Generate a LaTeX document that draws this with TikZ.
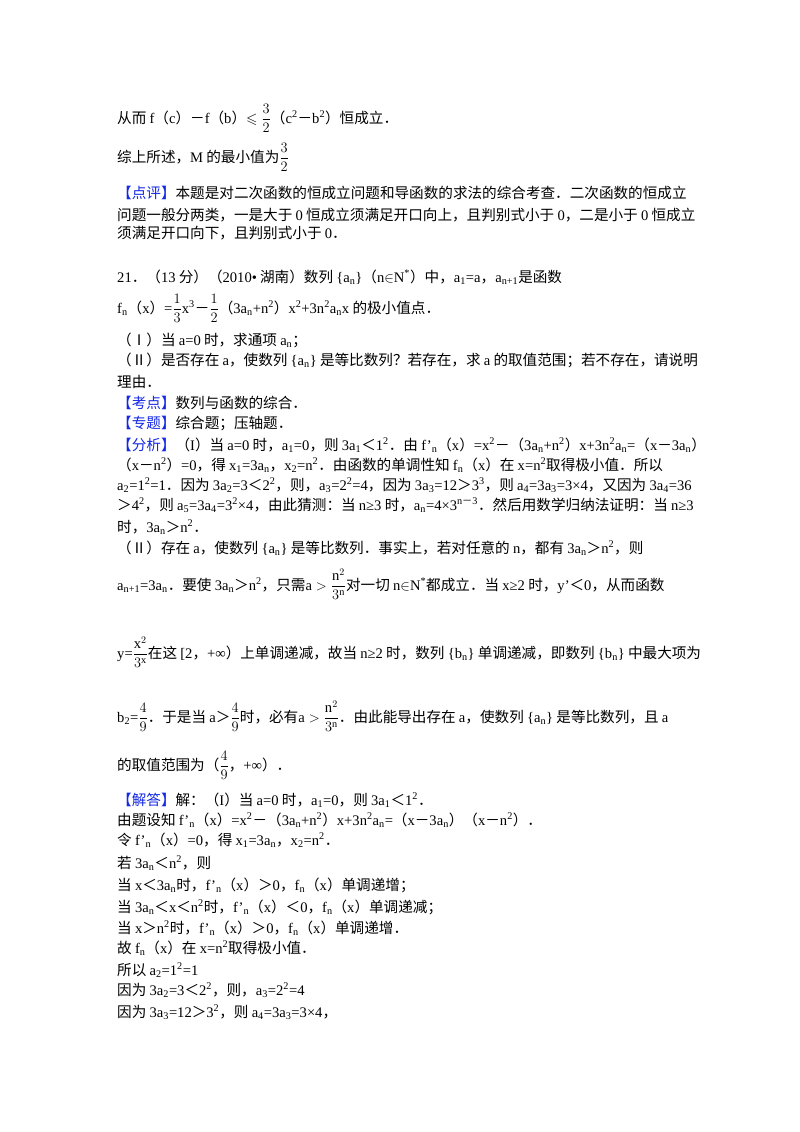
\documentclass[tikz,border=0pt]{standalone}
\usepackage{amsmath,amssymb}
\usepackage{fontspec}
\setmainfont{Liberation Serif}
\newfontfamily\cjkf{Noto Sans CJK SC}
\newcount\cc
\newXeTeXintercharclass\CJKcls
\newXeTeXintercharclass\PUNcls
\def\setcls#1#2#3{\cc=#1\relax\loop\ifnum\cc<#2\relax\XeTeXcharclass\cc=#3\advance\cc by 1\repeat}
\setcls{"4E00}{"A000}\CJKcls
\setcls{"3000}{"3040}\PUNcls
\setcls{"FF00}{"FFF0}\PUNcls
\setcls{"2160}{"2170}\PUNcls
\XeTeXinterchartokenstate=1
\XeTeXinterchartoks 0 \CJKcls={\hskip0.22em\cjkf}
\XeTeXinterchartoks \CJKcls 0={\rmfamily\hskip0.22em}
\XeTeXinterchartoks 4095 \CJKcls={\cjkf}
\XeTeXinterchartoks \CJKcls 4095={\rmfamily}
\XeTeXinterchartoks 0 \PUNcls={\cjkf}
\XeTeXinterchartoks \PUNcls 0={\rmfamily}
\XeTeXinterchartoks 4095 \PUNcls={\cjkf}
\XeTeXinterchartoks \PUNcls 4095={\rmfamily}
\definecolor{blu}{RGB}{20,40,230}
\newcommand\Ss[1]{\textsubscript{#1}}
\newcommand\Sp[1]{\textsuperscript{#1}}
\newcommand\B[1]{\textcolor{blu}{#1}}
\tikzset{txt/.style={anchor=base west,inner sep=0pt,font=\fontsize{14.6}{18}\selectfont}}
\begin{document}
\begin{tikzpicture}[x=1pt,y=-1pt]
\useasboundingbox (0,0) rectangle (800,1132);
\fill[white] (0,0) rectangle (800,1132);
\node[txt] (l1) at (117,123) {从而f（c）－f（b）$\leqslant\dfrac{3}{2}$（c\Sp{2}－b\Sp{2}）恒成立．};
\node[txt] (l2) at (117,162) {综上所述，M的最小值为$\dfrac{3}{2}$};
\node[txt] (l3) at (117,198) {\B{【点评】}本题是对二次函数的恒成立问题和导函数的求法的综合考查．二次函数的恒成立};
\node[txt] (l4) at (117,220) {问题一般分两类，一是大于0恒成立须满足开口向上，且判别式小于0，二是小于0恒成立};
\node[txt] (l5) at (117,238) {须满足开口向下，且判别式小于0．};
\node[txt] (l6) at (117,282) {21．（13分）（2010•湖南）数列\{a\Ss{n}\}（n$\in$N\Sp{*}）中，a\Ss{1}=a，a\Ss{n+1}是函数};
\node[txt] (l7) at (117,313) {f\Ss{n}（x）=$\dfrac{1}{3}$x\Sp{3}－$\dfrac{1}{2}$（3a\Ss{n}+n\Sp{2}）x\Sp{2}+3n\Sp{2}a\Ss{n}x的极小值点．};
\node[txt] (l8) at (117,345) {（Ⅰ）当a=0时，求通项a\Ss{n}；};
\node[txt] (l9) at (117,365) {（Ⅱ）是否存在a，使数列\{a\Ss{n}\}是等比数列？若存在，求a的取值范围；若不存在，请说明};
\node[txt] (l10) at (117,387) {理由．};
\node[txt] (l11) at (117,408) {\B{【考点】}数列与函数的综合．};
\node[txt] (l12) at (117,428) {\B{【专题】}综合题；压轴题．};
\node[txt] (l13) at (117,450) {\B{【分析】}（I）当a=0时，a\Ss{1}=0，则3a\Ss{1}＜1\Sp{2}．由f'\Ss{n}（x）=x\Sp{2}－（3a\Ss{n}+n\Sp{2}）x+3n\Sp{2}a\Ss{n}=（x－3a\Ss{n}）};
\node[txt] (l14) at (117,470) {（x－n\Sp{2}）=0，得x\Ss{1}=3a\Ss{n}，x\Ss{2}=n\Sp{2}．由函数的单调性知f\Ss{n}（x）在x=n\Sp{2}取得极小值．所以};
\node[txt] (l15) at (117,490) {a\Ss{2}=1\Sp{2}=1．因为3a\Ss{2}=3＜2\Sp{2}，则，a\Ss{3}=2\Sp{2}=4，因为3a\Ss{3}=12＞3\Sp{3}，则a\Ss{4}=3a\Ss{3}=3×4，又因为3a\Ss{4}=36};
\node[txt] (l16) at (117,510) {＞4\Sp{2}，则a\Ss{5}=3a\Ss{4}=3\Sp{2}×4，由此猜测：当n≥3时，a\Ss{n}=4×3\Sp{n－3}．然后用数学归纳法证明：当n≥3};
\node[txt] (l17) at (117,532) {时，3a\Ss{n}＞n\Sp{2}．};
\node[txt] (l18) at (117,553) {（Ⅱ）存在a，使数列\{a\Ss{n}\}是等比数列．事实上，若对任意的n，都有3a\Ss{n}＞n\Sp{2}，则};
\node[txt] (l19) at (117,590) {a\Ss{n+1}=3a\Ss{n}．要使3a\Ss{n}＞n\Sp{2}，只需$\mathrm{a}>\dfrac{\mathrm{n}^2}{3^{\mathrm{n}}}$对一切n$\in$N\Sp{*}都成立．当x≥2时，y'＜0，从而函数};
\node[txt] (l20) at (117,658) {y=$\dfrac{\mathrm{x}^2}{3^{\mathrm{x}}}$在这[2，+∞）上单调递减，故当n≥2时，数列\{b\Ss{n}\}单调递减，即数列\{b\Ss{n}\}中最大项为};
\node[txt] (l21) at (117,722) {b\Ss{2}=$\dfrac{4}{9}$．于是当a＞$\dfrac{4}{9}$时，必有$\mathrm{a}>\dfrac{\mathrm{n}^2}{3^{\mathrm{n}}}$．由此能导出存在a，使数列\{a\Ss{n}\}是等比数列，且a};
\node[txt] (l22) at (117,770) {的取值范围为（$\dfrac{4}{9}$，+∞）．};
\node[txt] (l23) at (117,805) {\B{【解答】}解：（I）当a=0时，a\Ss{1}=0，则3a\Ss{1}＜1\Sp{2}．};
\node[txt] (l24) at (117,825) {由题设知f'\Ss{n}（x）=x\Sp{2}－（3a\Ss{n}+n\Sp{2}）x+3n\Sp{2}a\Ss{n}=（x－3a\Ss{n}）（x－n\Sp{2}）．};
\node[txt] (l25) at (117,845) {令f'\Ss{n}（x）=0，得x\Ss{1}=3a\Ss{n}，x\Ss{2}=n\Sp{2}．};
\node[txt] (l26) at (117,868) {若3a\Ss{n}＜n\Sp{2}，则};
\node[txt] (l27) at (117,890) {当x＜3a\Ss{n}时，f'\Ss{n}（x）＞0，f\Ss{n}（x）单调递增；};
\node[txt] (l28) at (117,912) {当3a\Ss{n}＜x＜n\Sp{2}时，f'\Ss{n}（x）＜0，f\Ss{n}（x）单调递减；};
\node[txt] (l29) at (117,933) {当x＞n\Sp{2}时，f'\Ss{n}（x）＞0，f\Ss{n}（x）单调递增．};
\node[txt] (l30) at (117,953) {故f\Ss{n}（x）在x=n\Sp{2}取得极小值．};
\node[txt] (l31) at (117,975) {所以a\Ss{2}=1\Sp{2}=1};
\node[txt] (l32) at (117,995) {因为3a\Ss{2}=3＜2\Sp{2}，则，a\Ss{3}=2\Sp{2}=4};
\node[txt] (l33) at (117,1017) {因为3a\Ss{3}=12＞3\Sp{2}，则a\Ss{4}=3a\Ss{3}=3×4，};
\end{tikzpicture}
\end{document}
